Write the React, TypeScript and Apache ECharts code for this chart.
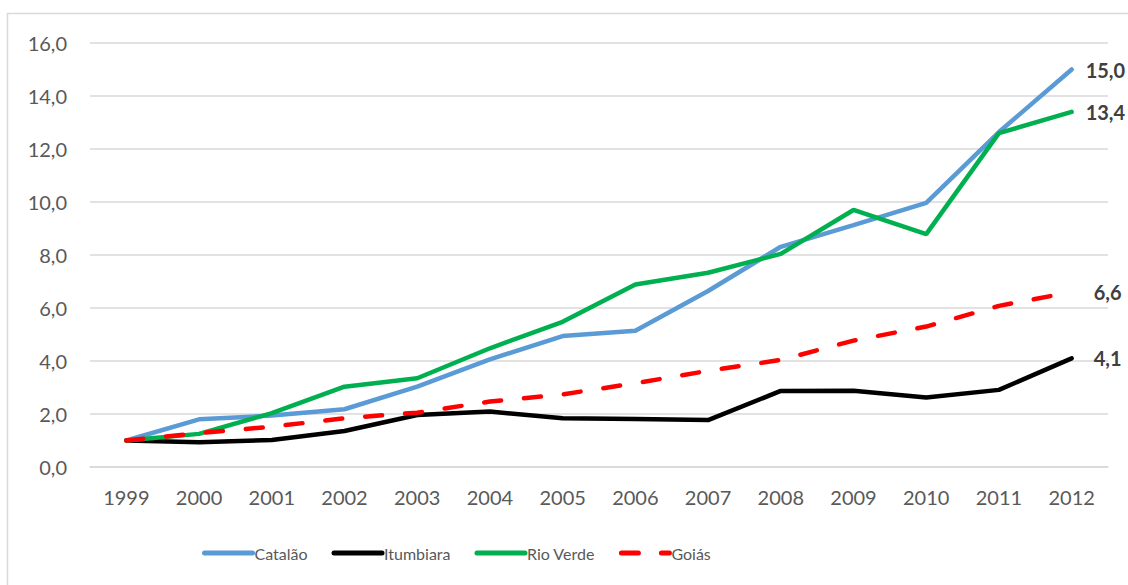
import React, { useEffect, useRef } from "react";
import * as echarts from "echarts";

const years = ["1999","2000","2001","2002","2003","2004","2005","2006","2007","2008","2009","2010","2011","2012"];
const catalao = [1.0, 1.8, 1.94, 2.18, 3.03, 4.06, 4.94, 5.14, 6.64, 8.31, 9.13, 9.97, 12.64, 15.0];
const itumbiara = [1.0, 0.93, 1.02, 1.36, 1.96, 2.09, 1.84, 1.81, 1.77, 2.87, 2.88, 2.62, 2.91, 4.1];
const rioVerde = [1.0, 1.25, 2.03, 3.03, 3.35, 4.48, 5.48, 6.89, 7.33, 8.04, 9.7, 8.79, 12.6, 13.4];
const goias = [1.0, 1.28, 1.52, 1.84, 2.05, 2.47, 2.74, 3.16, 3.63, 4.04, 4.77, 5.3, 6.08, 6.6];

const fmt = (v: number) => v.toFixed(1).replace(".", ",");

export default function App() {
  const ref = useRef<HTMLDivElement>(null);
  useEffect(() => {
    document.body.style.margin = "0";
    const chart = echarts.init(ref.current!, null, { renderer: "svg" });
    const mk = (name: string, data: number[], color: string, dashed: boolean, dist: number) => ({
      name,
      type: "line",
      data,
      symbol: "none",
      lineStyle: { color, width: 4.5, type: dashed ? [17, 23] : "solid", cap: "round" },
      itemStyle: { color },
      z: dashed ? 5 : 3,
      endLabel: {
        show: true,
        distance: dist,
        formatter: (p: any) => fmt(p.value),
        fontFamily: "Lato",
        fontWeight: "bold",
        fontSize: 20,
        color: "#404040",
      },
    });
    chart.setOption({
      animation: false,
      backgroundColor: "#ffffff",
      grid: { left: 90, right: 20, top: 43, bottom: 118 },
      graphic: [
        {
          type: "rect",
          shape: { x: 7.5, y: 13.5, width: 1140, height: 600 },
          style: { fill: "none", stroke: "#d9d9d9", lineWidth: 1.5 },
          silent: true,
        },
      ],
      legend: {
        top: 540,
        left: 197,
        itemWidth: 48,
        itemHeight: 20,
        itemGap: 24,
        lineStyle: { width: 5 },
        itemStyle: { opacity: 0 },
        textStyle: { fontFamily: "Lato", fontSize: 16, color: "#595959", padding: [0, 0, 0, -3] },
        data: ["Catalão", "Itumbiara", "Rio Verde", "Goiás"],
      },
      xAxis: {
        type: "category",
        data: years,
        boundaryGap: true,
        axisLine: { show: true, lineStyle: { color: "#d9d9d9", width: 1.5 } },
        axisTick: { show: false },
        axisLabel: { fontFamily: "Lato", fontSize: 20, color: "#595959", margin: 20 },
      },
      yAxis: {
        type: "value",
        min: 0,
        max: 16,
        interval: 2,
        axisLine: { show: false },
        axisTick: { show: false },
        splitLine: { lineStyle: { color: "#d9d9d9", width: 1.5 } },
        axisLabel: { fontFamily: "Lato", fontSize: 20, color: "#595959", margin: 23, formatter: (v: number) => fmt(v) },
      },
      series: [
        mk("Catalão", catalao, "#5B9BD5", false, 14),
        mk("Itumbiara", itumbiara, "#000000", false, 22),
        mk("Rio Verde", rioVerde, "#00B050", false, 14),
        mk("Goiás", goias, "#FF0000", true, 22),
      ],
    });
    return () => chart.dispose();
  }, []);
  return <div ref={ref} style={{ width: 1128, height: 585 }} />;
}
